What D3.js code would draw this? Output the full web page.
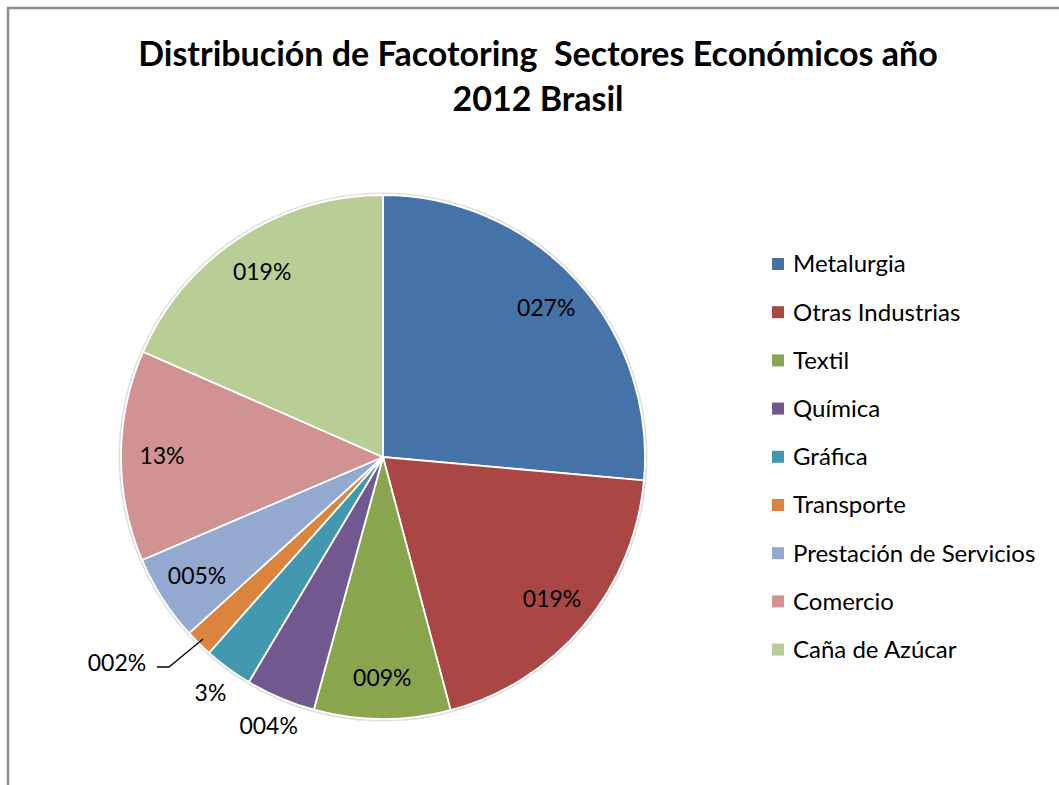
<!DOCTYPE html>
<html><head><meta charset="utf-8">
<script src="https://cdn.jsdelivr.net/npm/d3@7"></script>
<style>body{margin:0;background:#fff}svg{display:block}</style>
</head><body>
<svg id="c" width="1059" height="785"></svg>
<script>
const categories = ["Metalurgia","Otras Industrias","Textil","Química","Gráfica","Transporte","Prestación de Servicios","Comercio","Caña de Azúcar"];
const values = [26.4, 19.4, 8.4, 4.3, 3.0, 1.7, 5.3, 13.0, 18.4];
const labels = ["027%","019%","009%","004%","3%","002%","005%","13%","019%"];
const colors = ["#4572A7","#AA4643","#89A54E","#71588F","#4198AF","#DB843D","#93A9CF","#D19392","#B9CD96"];
const titleLines = ["Distribución de Facotoring  Sectores Económicos año","2012 Brasil"];

const svg = d3.select("#c");
const font = "Lato, 'Open Sans', sans-serif";
// frame
svg.append("path").attr("d","M8,790 L8,8 L1070,8").attr("fill","none").attr("stroke","#8c8c8c").attr("stroke-width",2.5);

// title
svg.append("g").selectAll("text").data(titleLines).join("text")
  .attr("x",538).attr("y",(d,i)=>66+i*45).attr("text-anchor","middle")
  .style("white-space","pre").attr("xml:space","preserve")
  .attr("font-family",font).attr("font-weight","bold").attr("font-size",34).attr("fill","#000")
  .text(d=>d);

const cx=383, cy=457, r=262;
const g = svg.append("g").attr("transform",`translate(${cx},${cy})`);
const pie = d3.pie().sort(null).value(d=>d);
const arcs = pie(values);
const arc = d3.arc().innerRadius(0).outerRadius(r);
g.append("circle").attr("r",r+1.5).attr("fill","none").attr("stroke","#e0e0e0").attr("stroke-width",2);
g.selectAll("path.s").data(arcs).join("path").attr("class","s")
  .attr("d",arc).attr("fill",(d,i)=>colors[i]).attr("stroke","#fff").attr("stroke-width",1.8);

const inArc = d3.arc().innerRadius(221).outerRadius(221);
const outArc = d3.arc().innerRadius(292).outerRadius(292);
const outside = [3,4];
g.selectAll("text.l").data(arcs).join("text").attr("class","l")
  .attr("transform",(d,i)=>{
    if(i===5) return "translate(-266,206)";
    const c = outside.includes(i) ? outArc.centroid(d) : inArc.centroid(d);
    return `translate(${c[0]},${c[1]})`;
  })
  .attr("text-anchor","middle").attr("dy","0.35em")
  .attr("font-family",font).attr("font-size",23).attr("fill","#000")
  .text((d,i)=>labels[i]);

// leader line for small slice
const tr = arcs[5];
const ma = (tr.startAngle+tr.endAngle)/2;
const ex = Math.sin(ma)*(r-6), ey = -Math.cos(ma)*(r-6);
g.append("path").attr("d",`M${-226},${210} L${-214},${210} L${ex},${ey}`)
  .attr("fill","none").attr("stroke","#000").attr("stroke-width",1.3);

// legend
const lg = svg.append("g").attr("transform","translate(772,264)");
const items = lg.selectAll("g").data(categories).join("g").attr("transform",(d,i)=>`translate(0,${i*48.2})`);
items.append("rect").attr("x",0).attr("y",-6).attr("width",12).attr("height",12).attr("fill",(d,i)=>colors[i]);
items.append("text").attr("x",21).attr("y",0).attr("dy","0.35em")
  .attr("font-family",font).attr("font-size",24).attr("fill","#000").text(d=>d);
</script>
</body></html>
